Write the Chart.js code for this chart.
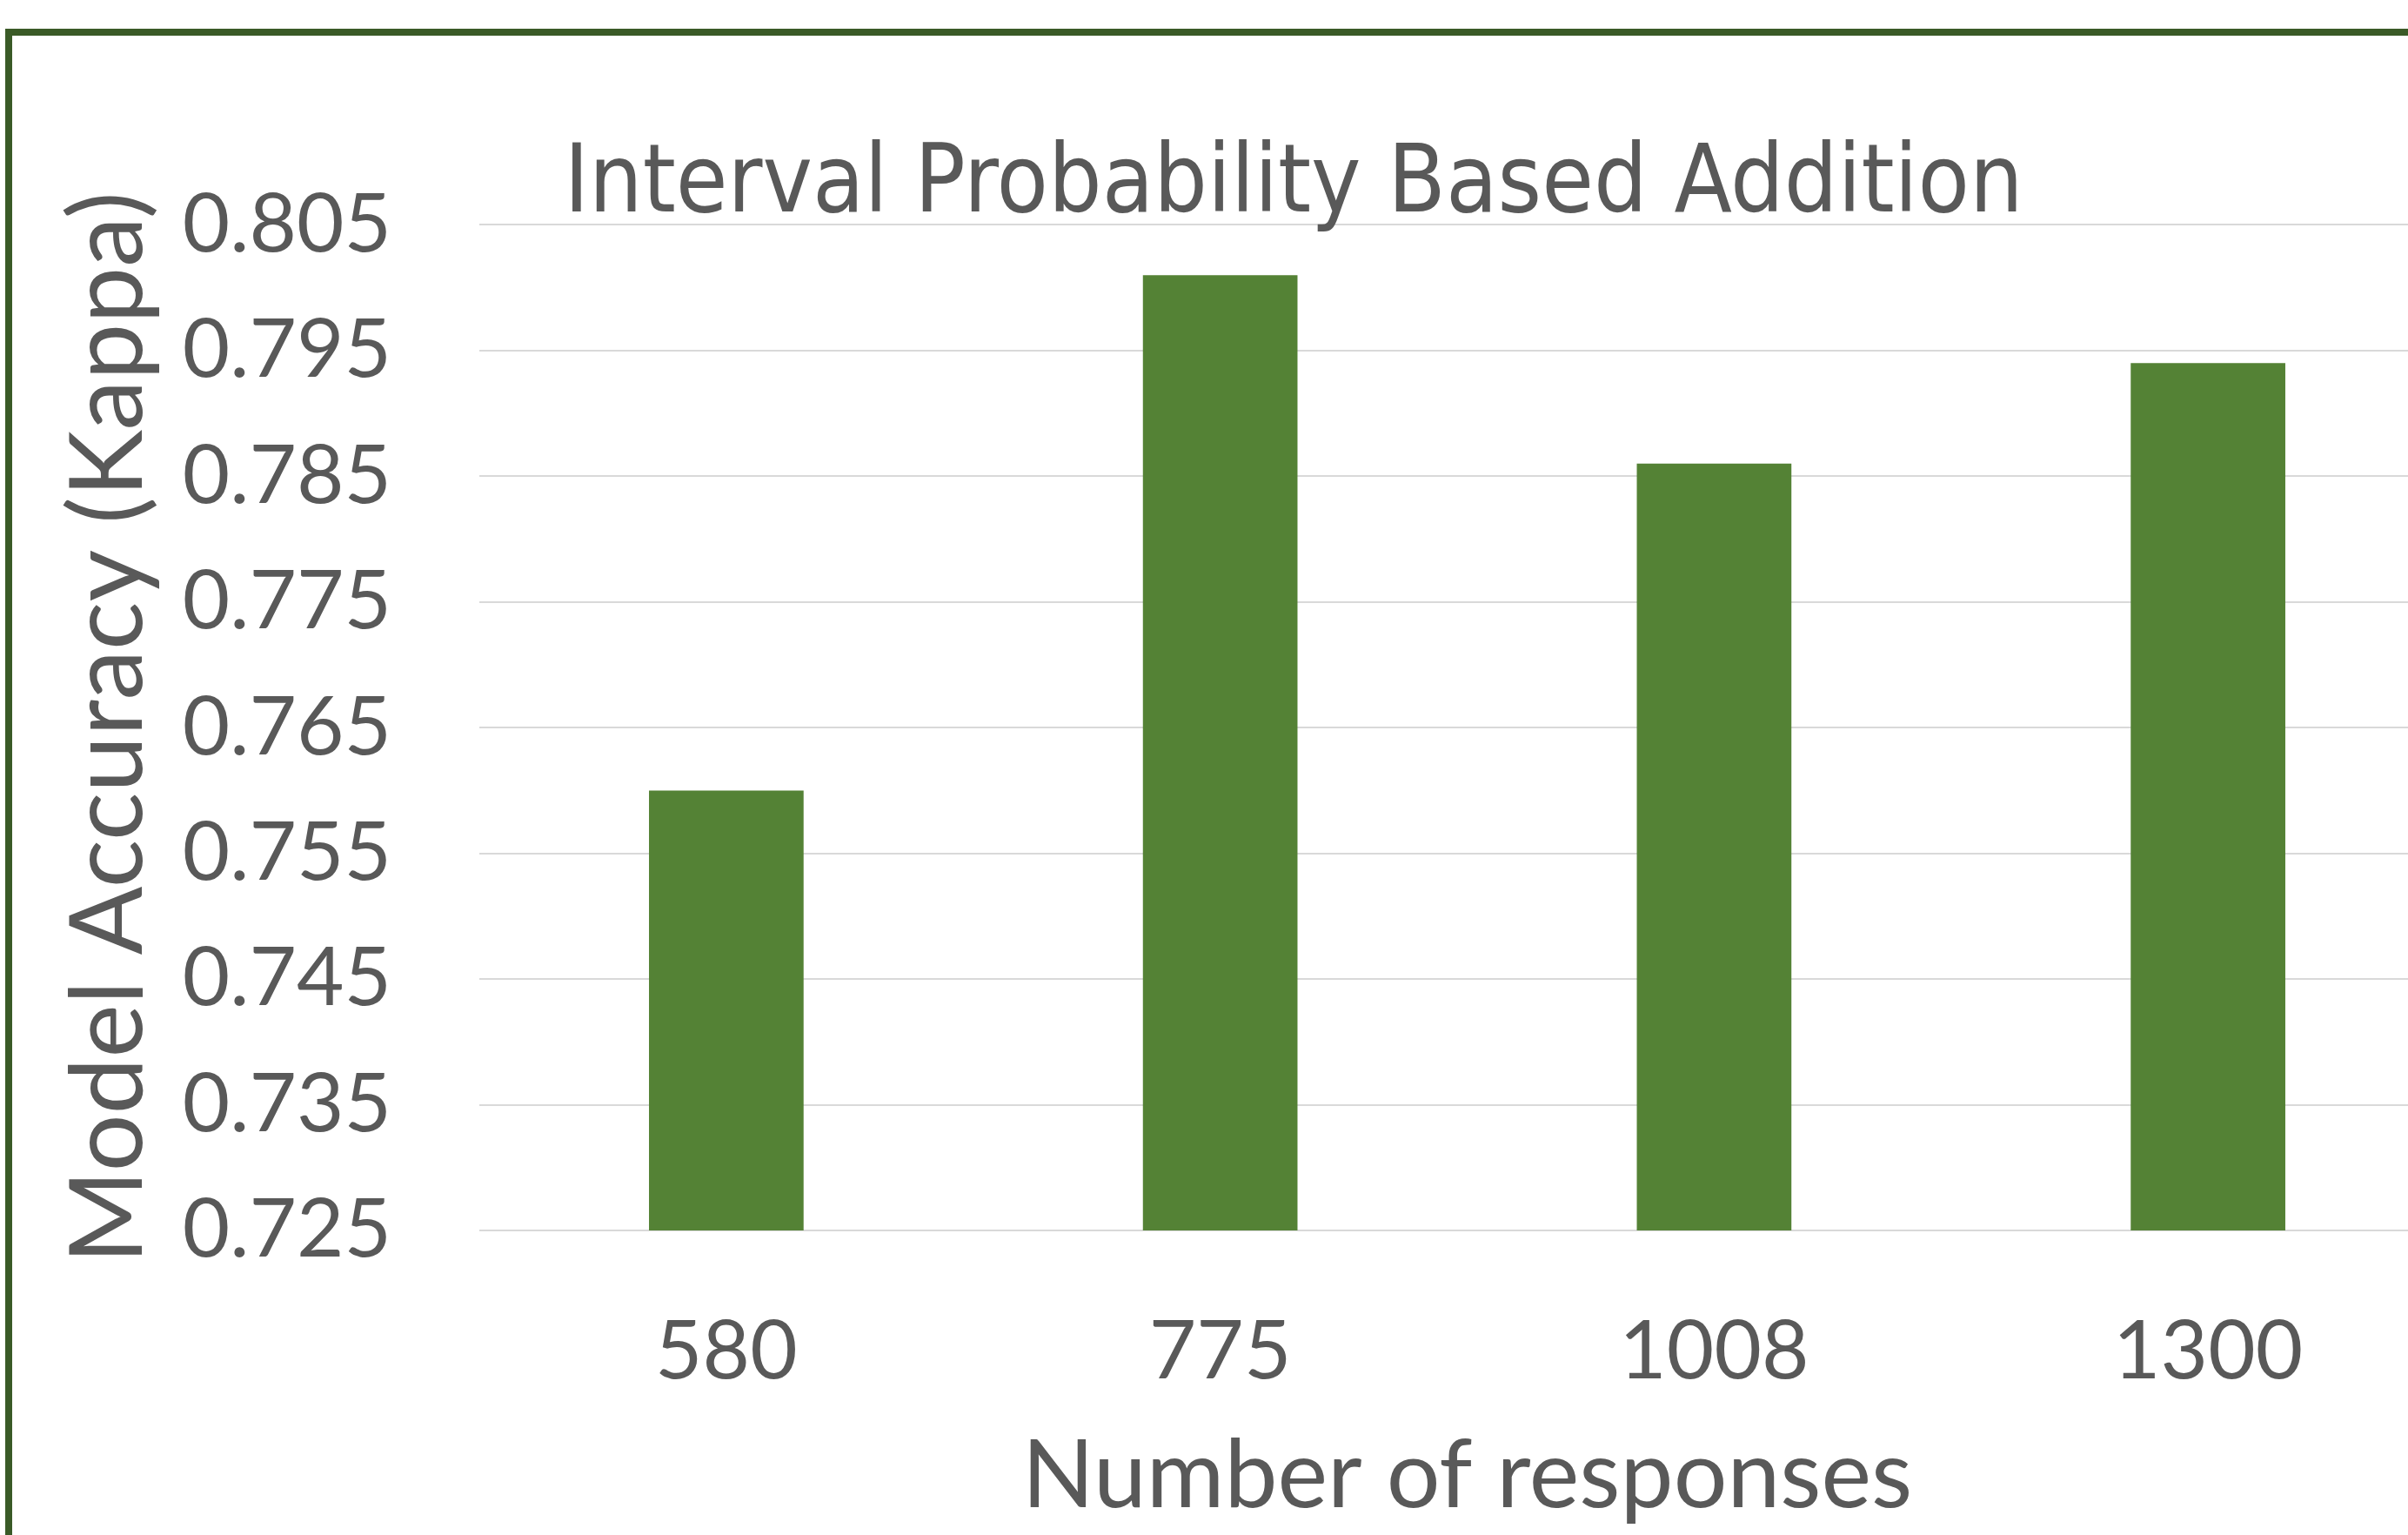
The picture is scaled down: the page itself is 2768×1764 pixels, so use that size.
<!DOCTYPE html>
<html>
<head>
<meta charset="utf-8">
<script src="https://cdn.jsdelivr.net/npm/chart.js@4.4.1/dist/chart.umd.min.js"></script>
<style>
  html, body { margin: 0; padding: 0; background: #ffffff; overflow: hidden; }
  body { width: 2768px; height: 1764px; position: relative; }
  #frame {
    position: absolute; left: 6px; top: 33px;
    width: 2946px; height: 1739px;
    border: 8px solid #3a5a27;
    background: #ffffff;
  }
  #chart { display: block; }
</style>
</head>
<body>
<div id="frame"><canvas id="chart" width="2946" height="1739"></canvas></div>
<script>
// data
const categorias = ["580", "775", "1008", "1300"];
const valores = [0.760, 0.801, 0.786, 0.794];
const eixoMin = 0.725;
const eixoMax = 0.805;
const passo = 0.01;

const titulo = "Interval Probability Based Addition";
const tituloY = "Model Accuracy (Kappa)";
const tituloX = "Number of responses";

const corTexto = "#595959";
const corBarra = "#548235";
const corGrade = "#d9d9d9";

function criarGrafico() {
  const ctx = document.getElementById("chart").getContext("2d");
  new Chart(ctx, {
    type: "bar",
    data: {
      labels: categorias,
      datasets: [{
        data: valores,
        backgroundColor: corBarra,
        borderWidth: 0,
        barPercentage: 0.313,
        categoryPercentage: 1,
      }],
    },
    options: {
      responsive: false,
      animation: false,
      devicePixelRatio: 1,
      layout: { padding: 0 },
      plugins: {
        legend: { display: false },
        tooltip: { enabled: false },
        title: {
          display: true,
          text: titulo,
          color: corTexto,
          font: { family: "'Liberation Sans Narrow', 'Arial Narrow', 'DejaVu Sans Condensed', sans-serif", size: 108, weight: "normal", lineHeight: 0.8 },
          padding: { top: 131, bottom: 0 },
        },
      },
      scales: {
        x: {
          grid: { display: false, drawTicks: false },
          border: { display: false },
          ticks: {
            color: corTexto,
            padding: 83,
            font: { family: "Lato", size: 94 },
          },
          title: {
            display: true,
            text: tituloX,
            color: corTexto,
            font: { family: "Lato", size: 109 },
            padding: { top: 0, bottom: 18 },
          },
          afterFit: (escala) => { escala.height = 366; },
        },
        y: {
          min: eixoMin,
          max: eixoMax,
          grid: { color: corGrade, lineWidth: 2, drawTicks: false },
          border: { display: false },
          ticks: {
            stepSize: passo,
            color: corTexto,
            padding: 101,
            font: { family: "Lato", size: 94 },
            callback: (v) => Number(v).toFixed(3),
          },
          title: {
            display: true,
            text: tituloY,
            color: corTexto,
            font: { family: "Lato", size: 116 },
            padding: { top: 42, bottom: 0 },
          },
          afterFit: (escala) => { escala.width = 537; },
        },
        direita: {
          position: "right",
          grid: { display: false },
          border: { display: false },
          ticks: { display: false },
          afterFit: (escala) => { escala.width = 138; },
        },
      },
    },
  });
}

document.addEventListener("DOMContentLoaded", criarGrafico);
</script>
</body>
</html>
